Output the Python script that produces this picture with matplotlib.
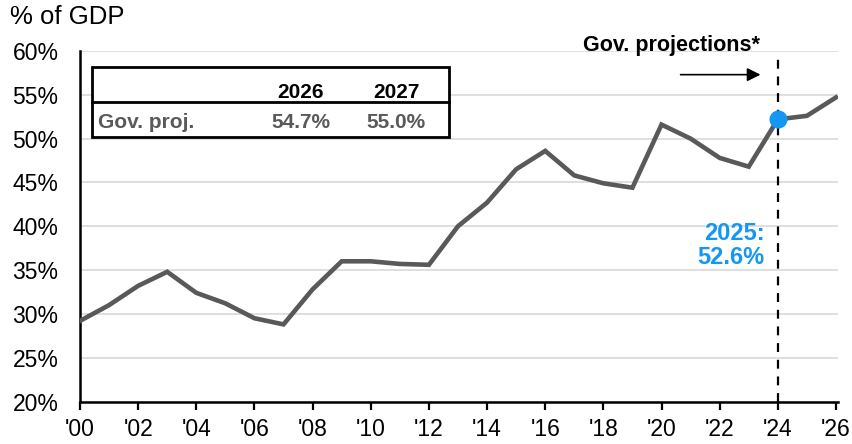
import numpy as np
from matplotlib import pyplot as plt
from matplotlib.patches import Rectangle

plt.rcParams['font.family'] = ['Liberation Sans', 'DejaVu Sans']

years = np.arange(2000, 2027)
debt = [29.2, 31.0, 33.2, 34.8, 32.4, 31.2, 29.5, 28.8, 32.8, 36.0,
        36.0, 35.7, 35.6, 40.0, 42.7, 46.5, 48.6, 45.8, 44.9, 44.4,
        51.6, 50.0, 47.8, 46.8, 52.2, 52.6, 54.7]
proj_start = 2024
tick_years = np.arange(2000, 2027, 2)
tick_labels = ["'%02d" % (y % 100) for y in tick_years]
y_ticks = np.arange(20, 61, 5)
table_cols = ['2026', '2027']
table_vals = ['54.7%', '55.0%']
table_row = 'Gov. proj.'
callout = '2025:\n52.6%'

line_col = '#58595B'
blue = '#1496F5'
grey_txt = '#595959'

fig = plt.figure(figsize=(8.53, 4.44), dpi=100)
ax = fig.add_axes([80/853, 1-401.5/444, 758/853, 350.5/444])

ax.plot(years, debt, color=line_col, lw=3.3, solid_joinstyle='miter', zorder=3)
i = list(years).index(proj_start)
ax.plot(years[i], debt[i], 'o', color=blue, ms=12, zorder=4)
ax.axvline(proj_start, ymax=0.98, color='black', ls=(0, (4, 3.5)), lw=1.6, zorder=2)

ax.set_xlim(2000, 2026.07)
ax.set_ylim(20, 60)
ax.set_yticks(y_ticks)
ax.set_yticklabels(['%d%%' % v for v in y_ticks])
ax.set_xticks(tick_years)
ax.set_xticklabels(tick_labels)
ax.tick_params(axis='y', length=0, labelsize=16.5, pad=15.5)
ax.tick_params(axis='x', length=6, width=1.6, direction='out', labelsize=16.5, pad=6)
ax.grid(axis='y', color='#D9D9D9', lw=1.2)
ax.set_axisbelow(True)
for s in ['top', 'right']:
    ax.spines[s].set_visible(False)
for s in ['left', 'bottom']:
    ax.spines[s].set_linewidth(1.8)

fig.text(10/853, 1-17/444, '% of GDP', fontsize=18.5, va='center', ha='left')

# projections annotation
ax.text(2020.36, 60.05, 'Gov. projections*', fontsize=15.5, fontweight='bold',
        ha='center', va='baseline', clip_on=False)
ax.annotate('', xy=(2023.5, 57.3), xytext=(2020.56, 57.3),
            arrowprops=dict(arrowstyle='-|>', color='black', lw=1.2,
                            mutation_scale=20))
ax.text(2023.55, 37.85, callout, color=blue, fontsize=17, fontweight='bold',
        ha='right', va='center', multialignment='right', linespacing=1.05)

# inset table
tr = ax.transAxes
ax.add_patch(Rectangle((0.016, 0.755), 0.487-0.016, 0.954-0.755, transform=tr,
                       facecolor='white', edgecolor='black', lw=2, zorder=5))
ax.plot([0.016, 0.487], [0.854, 0.854], transform=tr, color='black', lw=2, zorder=6)
col_x = [0.291, 0.417]
for x, c, v in zip(col_x, table_cols, table_vals):
    ax.text(x, 0.883, c, transform=tr, fontsize=15, fontweight='bold',
            ha='center', va='center', zorder=7)
    ax.text(x, 0.797, v, transform=tr, fontsize=15, fontweight='bold',
            color=grey_txt, ha='center', va='center', zorder=7)
ax.text(0.024, 0.797, table_row, transform=tr, fontsize=15, fontweight='bold',
        color=grey_txt, ha='left', va='center', zorder=7)

fig.savefig('out.png', dpi=100)
